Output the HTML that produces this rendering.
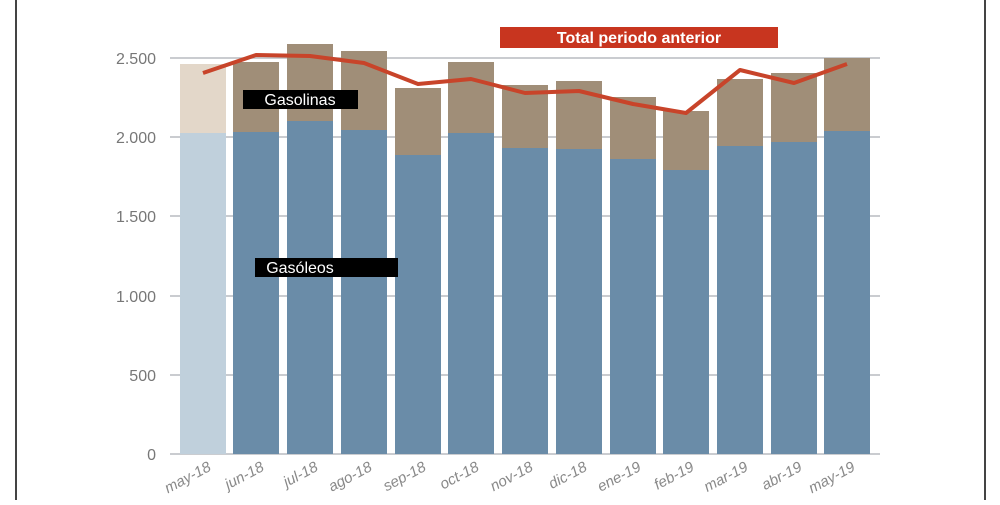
<!DOCTYPE html>
<html><head><meta charset="utf-8"><style>
body{margin:0;background:#fff;width:1000px;height:500px;overflow:hidden;font-family:"Liberation Sans",sans-serif}
</style></head><body>
<svg width="1000" height="500" xmlns="http://www.w3.org/2000/svg">
<rect x="0" y="0" width="1000" height="500" fill="#fff"/>
<line x1="16" y1="0" x2="16" y2="500" stroke="#444" stroke-width="2"/>
<line x1="985" y1="0" x2="985" y2="500" stroke="#444" stroke-width="2"/>
<g stroke="#b8bcc0" stroke-width="1.5">
<line x1="170" y1="58" x2="880" y2="58"/><line x1="170" y1="137" x2="880" y2="137"/>
<line x1="170" y1="216" x2="880" y2="216"/><line x1="170" y1="296" x2="880" y2="296"/>
<line x1="170" y1="375" x2="880" y2="375"/><line x1="170" y1="454" x2="880" y2="454"/>
</g>
<g font-size="16" fill="#777" text-anchor="end">
<text x="156" y="64">2.500</text><text x="156" y="143">2.000</text><text x="156" y="222">1.500</text>
<text x="156" y="302">1.000</text><text x="156" y="381">500</text><text x="156" y="460">0</text>
</g>
<rect x="180" y="64" width="46" height="69" fill="#e3d7c9"/><rect x="180" y="133" width="46" height="321" fill="#c0d0dc"/>
<rect x="233" y="62" width="46" height="70" fill="#a08e78"/><rect x="233" y="132" width="46" height="322" fill="#6a8ca8"/>
<rect x="287" y="44" width="46" height="77" fill="#a08e78"/><rect x="287" y="121" width="46" height="333" fill="#6a8ca8"/>
<rect x="341" y="51" width="46" height="79" fill="#a08e78"/><rect x="341" y="130" width="46" height="324" fill="#6a8ca8"/>
<rect x="395" y="88" width="46" height="67" fill="#a08e78"/><rect x="395" y="155" width="46" height="299" fill="#6a8ca8"/>
<rect x="448" y="62" width="46" height="71" fill="#a08e78"/><rect x="448" y="133" width="46" height="321" fill="#6a8ca8"/>
<rect x="502" y="85" width="46" height="63" fill="#a08e78"/><rect x="502" y="148" width="46" height="306" fill="#6a8ca8"/>
<rect x="556" y="81" width="46" height="68" fill="#a08e78"/><rect x="556" y="149" width="46" height="305" fill="#6a8ca8"/>
<rect x="610" y="97" width="46" height="62" fill="#a08e78"/><rect x="610" y="159" width="46" height="295" fill="#6a8ca8"/>
<rect x="663" y="111" width="46" height="59" fill="#a08e78"/><rect x="663" y="170" width="46" height="284" fill="#6a8ca8"/>
<rect x="717" y="79" width="46" height="67" fill="#a08e78"/><rect x="717" y="146" width="46" height="308" fill="#6a8ca8"/>
<rect x="771" y="73" width="46" height="69" fill="#a08e78"/><rect x="771" y="142" width="46" height="312" fill="#6a8ca8"/>
<rect x="824" y="58" width="46" height="73" fill="#a08e78"/><rect x="824" y="131" width="46" height="323" fill="#6a8ca8"/>
<polyline fill="none" stroke="#c8442a" stroke-width="4" stroke-linejoin="round" points="203,73 256,55 310,56 364,63 418,84 471,79 525,93 579,91 633,104 686,113 740,70 794,83 847,64"/>
<rect x="500" y="27" width="278" height="21" fill="#c8351f"/>
<text x="639" y="43" font-size="16" font-weight="bold" fill="#fff" text-anchor="middle">Total periodo anterior</text>
<rect x="243" y="90" width="115" height="19" fill="#000"/>
<text x="300" y="105" font-size="16" fill="#fff" text-anchor="middle">Gasolinas</text>
<rect x="255" y="258" width="143" height="19" fill="#000"/>
<text x="300" y="273" font-size="16" fill="#fff" text-anchor="middle">Gasóleos</text>
<g font-size="15" font-style="italic" fill="#888" text-anchor="end">
<text transform="translate(212,470) rotate(-28)">may-18</text>
<text transform="translate(265,470) rotate(-28)">jun-18</text>
<text transform="translate(319,470) rotate(-28)">jul-18</text>
<text transform="translate(373,470) rotate(-28)">ago-18</text>
<text transform="translate(427,470) rotate(-28)">sep-18</text>
<text transform="translate(480,470) rotate(-28)">oct-18</text>
<text transform="translate(534,470) rotate(-28)">nov-18</text>
<text transform="translate(588,470) rotate(-28)">dic-18</text>
<text transform="translate(642,470) rotate(-28)">ene-19</text>
<text transform="translate(695,470) rotate(-28)">feb-19</text>
<text transform="translate(749,470) rotate(-28)">mar-19</text>
<text transform="translate(803,470) rotate(-28)">abr-19</text>
<text transform="translate(856,470) rotate(-28)">may-19</text>
</g>
</svg>
</body></html>
